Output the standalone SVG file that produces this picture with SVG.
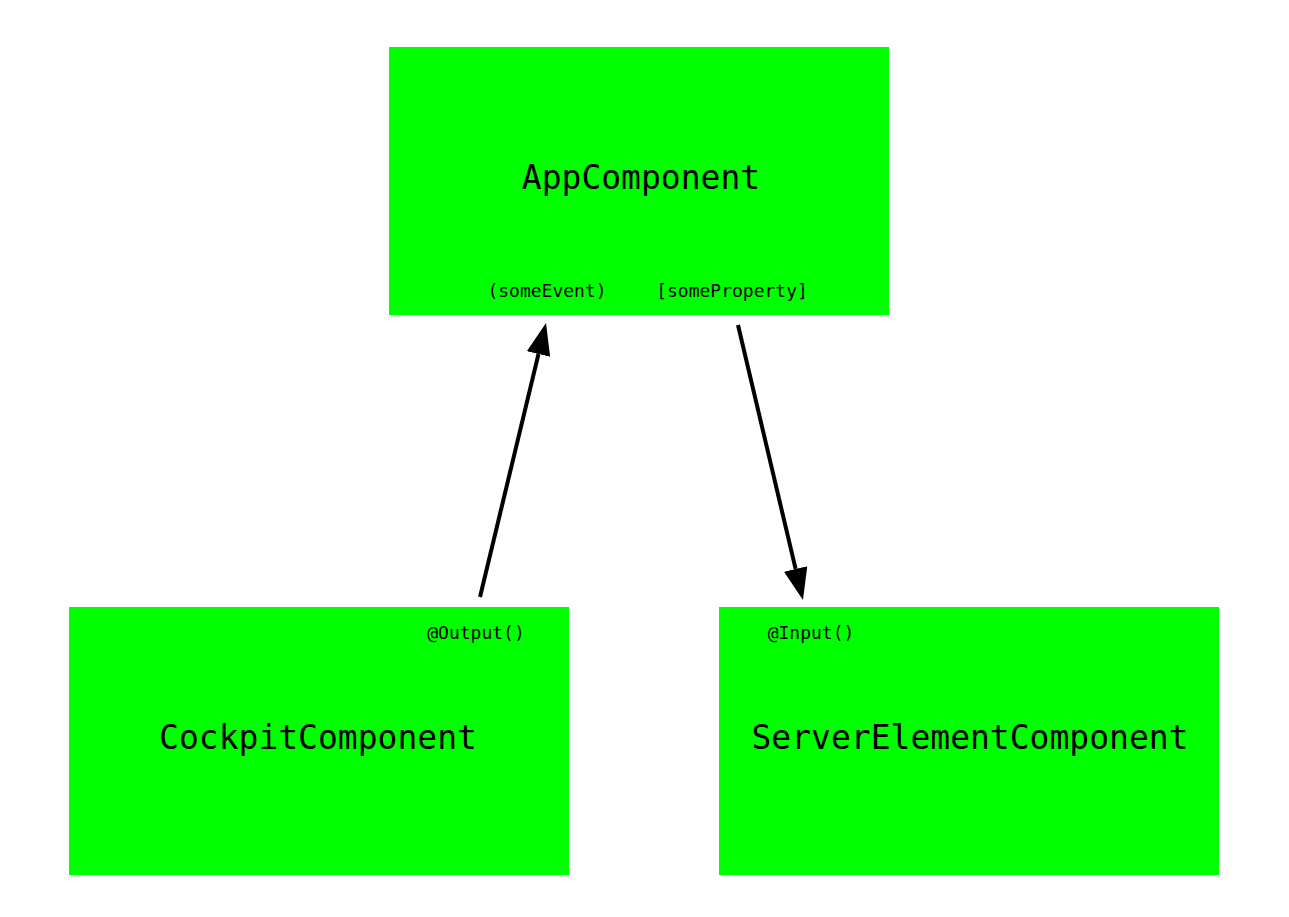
<svg xmlns="http://www.w3.org/2000/svg" width="1289" height="917" viewBox="0 0 1289 917">
  <style>
    .box { fill: #00ff00; }
    .title { font-family: "DejaVu Sans Mono", "Liberation Mono", monospace; font-size: 33px; fill: #000; text-anchor: middle; }
    .small { font-family: "DejaVu Sans Mono", "Liberation Mono", monospace; font-size: 18px; fill: #000; text-anchor: middle; }
    .edge { stroke: #000; stroke-width: 4; fill: none; marker-end: url(#arrow); }
  </style>
  <defs>
    <marker id="arrow" viewBox="0 0 32 24" refX="0" refY="12" markerWidth="32" markerHeight="24" markerUnits="userSpaceOnUse" orient="auto">
      <path d="M0,0 L32,12 L0,24 Z" fill="#000"/>
    </marker>
  </defs>
  <rect width="1289" height="917" fill="#fff"/>
  <g id="app">
    <rect class="box" x="389" y="47" width="500" height="268"/>
    <text class="title" x="641" y="189">AppComponent</text>
    <text class="small" x="547" y="297">(someEvent)</text>
    <text class="small" x="732" y="297">[someProperty]</text>
  </g>
  <g id="cockpit">
    <rect class="box" x="69" y="607" width="500" height="268"/>
    <text class="title" x="318" y="749">CockpitComponent</text>
    <text class="small" x="476" y="639">@Output()</text>
  </g>
  <g id="server">
    <rect class="box" x="719" y="607" width="500" height="268"/>
    <text class="title" x="970" y="749">ServerElementComponent</text>
    <text class="small" x="811" y="639">@Input()</text>
  </g>
  <g id="connectors">
    <path class="edge" d="M480,597 L538.5,354"/>
    <path class="edge" d="M738,325 L795.6,568.9"/>
  </g>
</svg>
